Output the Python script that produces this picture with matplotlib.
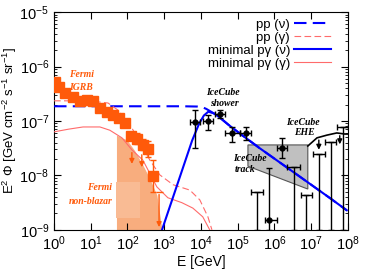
import matplotlib
matplotlib.use("Agg")
import matplotlib.pyplot as plt
import numpy as np

plt.rcParams['font.family'] = ['Liberation Sans', 'DejaVu Sans']
plt.rcParams['mathtext.fontset'] = 'custom'
plt.rcParams['mathtext.rm'] = 'Liberation Sans'
plt.rcParams['mathtext.it'] = 'Liberation Sans:italic'

# curves as log10(E/GeV) and log10(E^2 Phi)
pp_nu_logE = [0.0, 3.5, 3.9, 4.05, 4.15, 4.25, 4.35, 4.5, 4.75, 5.0, 5.6, 6.5, 7.0, 7.5, 7.97]
pp_nu_logF = [-6.73, -6.73, -6.735, -6.75, -6.78, -6.82, -6.86, -6.93, -7.07, -7.2, -7.5, -7.93, -8.17, -8.41, -8.64]

pg_nu_logE = [2.94, 3.2, 3.5, 3.76, 3.95, 4.08, 4.2, 4.35, 4.5, 4.75, 5.0, 5.6, 6.5, 7.0, 7.5, 7.97]
pg_nu_logF = [-9.0, -8.48, -7.88, -7.36, -7.05, -6.90, -6.83, -6.86, -6.93, -7.07, -7.2, -7.5, -7.93, -8.17, -8.41, -8.64]

pp_g_logE = [0.0, 0.71, 1.2, 1.47, 1.74, 2.07, 2.34, 2.61, 2.88, 3.24, 3.7, 3.97, 4.19, 4.30]
pp_g_logF = [-6.63, -6.63, -6.65, -6.67, -6.80, -7.07, -7.39, -7.72, -7.99, -8.17, -8.27, -8.45, -8.76, -9.0]

pg_g_logE = [0.0, 0.4, 0.79, 1.25, 1.52, 1.85, 2.12, 2.42, 2.80, 3.10, 3.48, 3.78, 4.05, 4.24]
pg_g_logF = [-7.20, -7.15, -7.11, -7.11, -7.17, -7.31, -7.53, -7.72, -8.21, -8.41, -8.50, -8.60, -8.76, -9.0]

# Fermi non-blazar band (upper edge)
nb_logE = [1.70, 1.99, 2.2, 2.42, 2.6, 2.80, 2.94]
nb_logF = [-7.26, -7.35, -7.55, -7.81, -8.05, -8.36, -9.0]
nb_inner_logE = [1.70, 2.34]
nb_inner_logF = [-8.78, -8.12]

# Fermi IGRB points
igrb_logE = [0.03, 0.14, 0.30, 0.52, 0.71, 0.90, 1.06, 1.25, 1.44, 1.61, 1.77, 1.93, 2.09, 2.26, 2.42, 2.56, 2.69]
igrb_logF = [-6.28, -6.38, -6.49, -6.56, -6.63, -6.61, -6.63, -6.76, -6.83, -6.89, -6.94, -7.04,
             -7.28, -7.33, -7.44, -7.51, -8.01]
igrb_err = [0.02, 0.02, 0.02, 0.02, 0.02, 0.02, 0.02, 0.02, 0.02, 0.02, 0.02, 0.03,
            0.04, 0.10, 0.10, 0.15, 0.30]
igrb_arrow_logE = [2.12, 2.39, 2.86]
igrb_arrow_top = [-7.53, -7.57, -8.30]
igrb_arrow_bot = [-7.84, -7.90, -9.0]

# IceCube shower
sh_logE = [3.84, 4.19, 4.52, 4.84, 5.22]
sh_logF = [-7.02, -7.00, -6.87, -7.22, -7.22]
sh_xlo = [3.70, 4.05, 4.38, 4.65, 5.06]
sh_xhi = [3.97, 4.33, 4.65, 5.06, 5.36]
sh_ylo = [-7.50, -7.17, -6.94, -7.39, -7.35]
sh_yhi = [-6.80, -6.89, -6.80, -7.11, -7.11]

# IceCube points with upper ends (bars running to the bottom)
hi_logE = [5.52, 5.85, 6.53, 6.86, 7.21, 7.54, 7.86]
hi_logF = [-8.30, -8.82, -7.84, -8.36, -7.61, -7.39, -7.11]
hi_top = [-8.30, -7.86, -7.84, -8.36, -7.61, -7.39, -7.11]
hi_xlo = [5.36, 5.74, 6.34, 6.72, 7.05, 7.37, 7.70]
hi_xhi = [5.69, 6.07, 6.69, 7.02, 7.37, 7.67, 8.0]
hi_marker = [False, True, False, False, False, False, False]

# one point with finite bars
g_logE = [6.20]
g_logF = [-7.50]
g_xlo = [6.07]
g_xhi = [6.34]
g_ylo = [-7.68]
g_yhi = [-7.31]

# IceCube track band and EHE line
track_logE = [5.28, 6.91, 6.91, 5.28]
track_logF = [-7.44, -7.44, -8.25, -7.83]
ehe_logE = [6.91, 7.16, 7.43, 7.70, 7.92, 8.0]
ehe_logF = [-7.46, -7.31, -7.26, -7.22, -7.24, -7.24]
ehe_arrow_logE = [7.21, 7.78]
ehe_arrow_top = [-7.30, -7.22]
ehe_arrow_bot = [-7.58, -7.48]

def p(a):
    return 10 ** np.array(a, dtype=float)

fig = plt.figure(figsize=(3.65, 2.74), dpi=100)
ax = fig.add_axes([0.148, 0.161, 0.805, 0.795])

orange = '#ff5a0a'
pink = '#ff6b6b'

# bands
bx = p(nb_logE)
ax.fill_between(bx, 1e-9, p(nb_logF), color='#f8ad7e', lw=0, zorder=1)
ax.fill_between(p(nb_inner_logE), p(nb_inner_logF[0]), p(nb_inner_logF[1]), color='#f9bb94', lw=0, zorder=1.1)
ax.fill(p(track_logE), p(track_logF), facecolor='#c0c0c0', edgecolor='#555555', lw=0.8, zorder=1)

# model curves
ax.plot(p(pp_nu_logE), p(pp_nu_logF), color='blue', ls=(0, (6, 3)), lw=1.5, label='pp (ν)', zorder=3)
ax.plot(p(pp_g_logE), p(pp_g_logF), color=pink, ls=(0, (6, 3)), lw=0.8, label='pp (γ)', zorder=3)
ax.plot(p(pg_nu_logE), p(pg_nu_logF), color='blue', lw=1.5, label='minimal pγ (ν)', zorder=3.1)
ax.plot(p(pg_g_logE), p(pg_g_logF), color=pink, lw=0.8, label='minimal pγ (γ)', zorder=3)

# Fermi IGRB
iy = p(igrb_logF)
ie = np.array(igrb_err)
ax.errorbar(p(igrb_logE), iy, yerr=[iy - iy * 10 ** -ie, iy * 10 ** ie - iy],
            fmt='s', color=orange, ms=6.5, capsize=2, elinewidth=1, zorder=4)
for e, t, b in zip(igrb_arrow_logE, igrb_arrow_top, igrb_arrow_bot):
    ax.annotate('', xy=(10 ** e, 10 ** b), xytext=(10 ** e, 10 ** t),
                arrowprops=dict(arrowstyle='-|>', color=orange, lw=1, mutation_scale=7), zorder=4)
ax.errorbar([10 ** igrb_arrow_logE[2]], [10 ** igrb_arrow_top[2]], xerr=[[10 ** 2.86 - 10 ** 2.77], [10 ** 2.97 - 10 ** 2.86]],
            fmt='none', color=orange, capsize=0, elinewidth=1, zorder=4)

# IceCube shower
sx = p(sh_logE); sy = p(sh_logF)
ax.errorbar(sx, sy, xerr=[sx - p(sh_xlo), p(sh_xhi) - sx], yerr=[sy - p(sh_ylo), p(sh_yhi) - sy],
            fmt='o', color='black', ms=3.5, capsize=2, elinewidth=1, zorder=5)

# bars down to the axis
for e, f, t, lo, hi, m in zip(hi_logE, hi_logF, hi_top, hi_xlo, hi_xhi, hi_marker):
    x = 10 ** e; y = 10 ** f
    ax.errorbar([x], [y], xerr=[[x - 10 ** lo], [10 ** hi - x]], yerr=[[y - 1e-9], [10 ** t - y]],
                fmt='o' if m else 'none', color='black', ms=3.5, capsize=2, elinewidth=1, zorder=5)
gx = p(g_logE); gy = p(g_logF)
ax.errorbar(gx, gy, xerr=[gx - p(g_xlo), p(g_xhi) - gx], yerr=[gy - p(g_ylo), p(g_yhi) - gy],
            fmt='o', color='black', ms=3.5, capsize=2, elinewidth=1, zorder=5)

# EHE
ax.plot(p(ehe_logE), p(ehe_logF), color='black', lw=1.2, zorder=5)
for e, t, b in zip(ehe_arrow_logE, ehe_arrow_top, ehe_arrow_bot):
    ax.annotate('', xy=(10 ** e, 10 ** b), xytext=(10 ** e, 10 ** t),
                arrowprops=dict(arrowstyle='-|>', color='black', lw=1, mutation_scale=7), zorder=5)

# labels on the plot
lab = dict(family='Liberation Serif', style='italic', weight='bold', fontsize=7, ha='center', va='center')
ax.text(10 ** 0.76, 10 ** -6.15, 'Fermi', color=orange, **lab)
ax.text(10 ** 0.73, 10 ** -6.38, 'IGRB', color=orange, **lab)
ax.text(10 ** 1.25, 10 ** -8.23, 'Fermi', color=orange, **lab)
ax.text(10 ** 1.0, 10 ** -8.47, 'non-blazar', color=orange, **lab)
ax.text(10 ** 4.6, 10 ** -6.47, 'IceCube', color='black', **lab)
ax.text(10 ** 4.65, 10 ** -6.67, 'shower', color='black', **lab)
ax.text(10 ** 6.78, 10 ** -7.02, 'IceCube', color='black', **lab)
ax.text(10 ** 6.82, 10 ** -7.22, 'EHE', color='black', **lab)
ax.text(10 ** 5.33, 10 ** -7.68, 'IceCube', color='black', **lab)
ax.text(10 ** 5.2, 10 ** -7.90, 'track', color='black', **lab)

ax.set_xscale('log')
ax.set_yscale('log')
ax.set_xlim(1, 1e8)
ax.set_ylim(1e-9, 1e-5)
ax.set_xticks([10.0 ** k for k in range(0, 9)])
ax.set_yticks([10.0 ** k for k in range(-9, -4)])
ax.tick_params(which='both', direction='in', top=True, right=True, labelsize=10.5)
ax.tick_params(which='major', length=5)
ax.tick_params(which='minor', length=2.5)
ax.set_xlabel('E [GeV]', fontsize=10, labelpad=1)
ax.set_ylabel(r'E$^2$ Φ [GeV cm$^{-2}$ s$^{-1}$ sr$^{-1}$]', fontsize=9.5, labelpad=0)

ax.legend(loc='upper right', bbox_to_anchor=(0.965, 1.0), frameon=False, markerfirst=False,
          fontsize=9.5, handlelength=2.8, handletextpad=0.3, labelspacing=0.05, borderaxespad=0.2,
          borderpad=0.3)

fig.savefig('out.png', dpi=100)
